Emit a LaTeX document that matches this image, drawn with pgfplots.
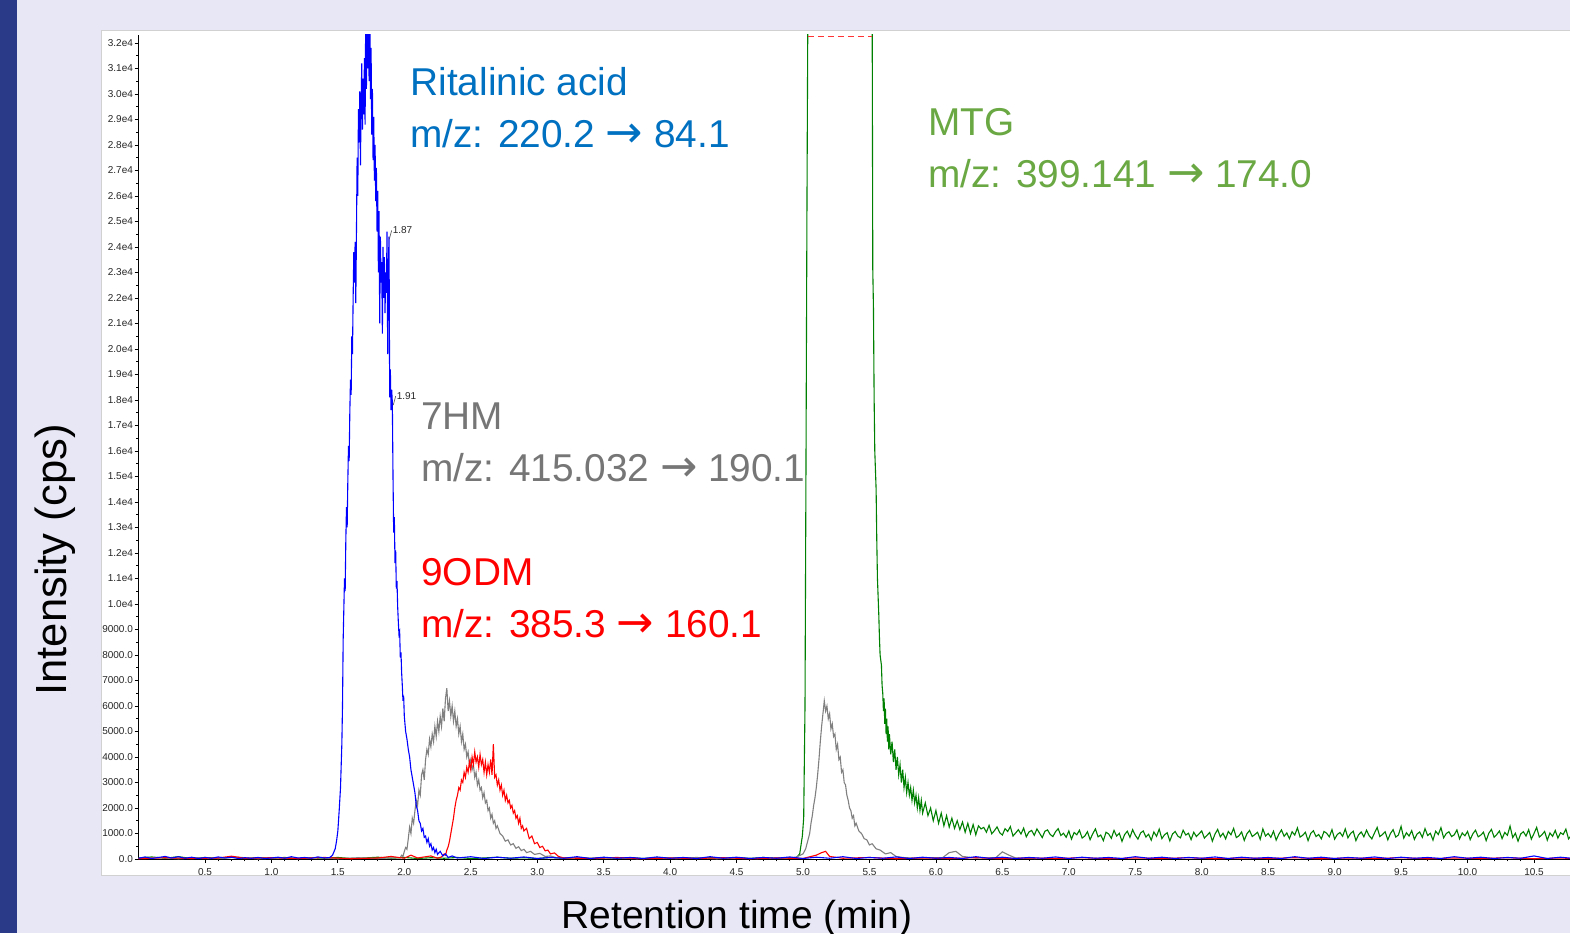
\documentclass[border=0pt]{standalone}
\usepackage{pgfplots}
\pgfplotsset{compat=1.18}
\usepackage{fontspec}
\setmainfont{Liberation Sans}
\newfontfamily\arrowfont[Scale=1.15]{DejaVu Sans}

\definecolor{bgpage}{HTML}{E7E7F6}
\definecolor{stripe}{HTML}{2A3A88}
\definecolor{ritblue}{HTML}{0070C0}
\definecolor{mtggreen}{HTML}{6AA843}
\definecolor{hmgray}{HTML}{767676}
\definecolor{trgreen}{HTML}{008000}
\definecolor{trgray}{HTML}{808080}

\newcommand\annfont{\fontsize{19.4}{26}\selectfont}
\newcommand\tickfont{\fontsize{5}{6}\selectfont}
\newcommand\arr{{\arrowfont →}}

\begin{document}
\begin{tikzpicture}
\clip (0,0) rectangle (785pt,466.5pt);
\fill[bgpage] (0,0) rectangle (785pt,466.5pt);
\fill[stripe] (0,0) rectangle (8.5pt,466.5pt);
\filldraw[fill=white, draw=black!18, line width=0.5pt] (50.5pt,29pt) rectangle (790pt,451pt);

\begin{axis}[
    at={(69.25pt,37pt)}, anchor=south west,
    scale only axis, width=715.75pt, height=412pt,
    xmin=0, xmax=10.771, ymin=0, ymax=32310,
    axis x line*=bottom, axis y line*=left,
    axis line style={black, line width=0.5pt},
    tick align=outside,
    major tick length=2pt, minor tick length=1.2pt,
    tick style={black, line width=0.4pt},
    xtick={0.5,1,1.5,2,2.5,3,3.5,4,4.5,5,5.5,6,6.5,7,7.5,8,8.5,9,9.5,10,10.5},
    xticklabels={0.5,1.0,1.5,2.0,2.5,3.0,3.5,4.0,4.5,5.0,5.5,6.0,6.5,7.0,7.5,8.0,8.5,9.0,9.5,10.0,10.5},
    minor x tick num=4,
    ytick={0,1000,2000,3000,4000,5000,6000,7000,8000,9000,10000,11000,12000,13000,14000,15000,16000,17000,18000,19000,20000,21000,22000,23000,24000,25000,26000,27000,28000,29000,30000,31000,32000},
    yticklabels={0.0,1000.0,2000.0,3000.0,4000.0,5000.0,6000.0,7000.0,8000.0,9000.0,1.0e4,1.1e4,1.2e4,1.3e4,1.4e4,1.5e4,1.6e4,1.7e4,1.8e4,1.9e4,2.0e4,2.1e4,2.2e4,2.3e4,2.4e4,2.5e4,2.6e4,2.7e4,2.8e4,2.9e4,3.0e4,3.1e4,3.2e4},
    minor y tick num=1,
    ticklabel style={font=\tickfont, text=black!85},
    yticklabel style={inner sep=0.6pt},
    xticklabel style={inner sep=0.6pt, yshift=-1.8pt},
    scaled y ticks=false,
    clip=true,
    every axis plot/.append style={line width=0.55pt, mark=none},
]
% MTG
\addplot[trgreen] coordinates {
(0,40)(0.1,80)(0.2,30)(0.3,90)(0.4,20)(0.5,60)(0.6,30)(0.7,70)(0.8,20)(0.9,50)(1.0,30)(1.1,60)(1.2,20)(1.3,50)(1.4,30)(1.5,60)(1.6,20)(1.7,40)(1.8,70)(1.9,30)(2.0,60)(2.1,20)(2.2,50)(2.3,30)(2.4,60)(2.5,20)(2.6,40)(2.7,70)(2.8,30)(2.9,50)(3.0,20)(3.1,60)(3.2,30)(3.3,50)(3.4,20)(3.5,60)(3.6,30)(3.7,50)(3.8,20)(3.9,60)(4.0,30)(4.1,50)(4.2,20)(4.3,60)(4.4,30)(4.5,50)(4.6,20)(4.7,60)(4.8,30)(4.9,50)
(4.95,50)(4.975,200)(4.995,900)(5.005,1600)(5.015,6000)(5.022,15000)(5.03,26000)(5.037,34000)(5.52,34000)
(5.525,23100)(5.53,21600)(5.535,18100)(5.54,16000)(5.55,14500)(5.555,12500)(5.56,11000)(5.565,10300)(5.57,9600)(5.575,8700)(5.58,8000)(5.59,7600)(5.595,6800)(5.60,6500)(5.605,5800)(5.61,6300)(5.615,5300)(5.62,5900)(5.625,4900)(5.63,5500)(5.635,4600)(5.64,5200)(5.645,4300)(5.65,4900)(5.66,4100)(5.67,4600)(5.68,3800)(5.69,4300)(5.70,3500)(5.71,4000)(5.72,3300)(5.73,3700)(5.74,3000)(5.75,3500)(5.76,2800)(5.77,3200)(5.78,2600)(5.79,3000)(5.80,2500)(5.81,2800)(5.82,2300)(5.83,2700)(5.84,2200)(5.85,2500)(5.86,2000)(5.87,2400)(5.88,1900)(5.89,2300)(5.90,1800)(5.92,2200)(5.94,1700)(5.96,2000)(5.98,1500)(6.00,1900)(6.02,1400)(6.04,1800)(6.06,1300)(6.08,1700)(6.10,1250)(6.12,1600)(6.14,1200)(6.16,1500)(6.18,1150)(6.20,1450)(6.22,1050)(6.24,1400)(6.26,1000)(6.28,1350)(6.30,950)(6.32,1300)
(6.34,1180)(6.36,1240)(6.38,1050)(6.40,1320)(6.42,990)(6.44,1110)(6.46,1260)(6.48,1030)(6.50,940)(6.52,1190)(6.54,1080)(6.56,1270)(6.58,900)(6.60,1020)(6.62,1150)(6.64,980)(6.66,1210)(6.68,870)(6.70,1060)(6.72,1120)(6.74,930)(6.76,1180)(6.78,1010)(6.80,840)(6.82,1090)(6.84,1140)(6.86,960)(6.88,880)(6.90,1070)(6.92,1190)(6.94,920)(6.96,1010)(6.98,850)(7.00,1100)
(7.02,780)(7.04,1040)(7.06,950)(7.08,1130)(7.10,820)(7.12,900)(7.14,1070)(7.16,760)(7.18,990)(7.20,1180)(7.22,870)(7.24,940)(7.26,720)(7.28,1050)(7.30,980)(7.32,810)(7.34,1120)(7.36,900)(7.38,1010)(7.40,690)(7.42,960)(7.44,1090)(7.46,850)(7.48,1150)(7.50,930)(7.52,780)(7.54,1020)(7.56,1100)(7.58,860)(7.60,970)(7.62,740)(7.64,1060)(7.66,890)(7.68,1170)(7.70,800)(7.72,950)(7.74,1030)(7.76,710)(7.78,980)(7.80,1080)(7.82,900)(7.84,830)(7.86,1130)(7.88,940)(7.90,1010)(7.92,760)(7.94,1050)(7.96,880)(7.98,990)
(8.00,1100)(8.02,820)(8.04,930)(8.06,1040)(8.08,700)(8.10,980)(8.12,1160)(8.14,870)(8.16,1010)(8.18,790)(8.20,1080)(8.22,950)(8.24,1200)(8.26,840)(8.28,910)(8.30,1060)(8.32,730)(8.34,990)(8.36,1120)(8.38,880)(8.40,960)(8.42,1050)(8.44,770)(8.46,1180)(8.48,900)(8.50,1000)(8.52,850)(8.54,1090)(8.56,740)(8.58,970)(8.60,1140)(8.62,890)(8.64,1020)(8.66,800)(8.68,1070)(8.70,940)(8.72,1220)(8.74,860)(8.76,930)(8.78,1050)(8.80,720)(8.82,1000)(8.84,1110)(8.86,880)(8.88,960)(8.90,790)(8.92,1080)(8.94,1010)(8.96,870)(8.98,1150)
(9.00,780)(9.02,960)(9.04,1040)(9.06,890)(9.08,1180)(9.10,830)(9.12,1000)(9.14,1090)(9.16,720)(9.18,950)(9.20,1060)(9.22,870)(9.24,1130)(9.26,910)(9.28,790)(9.30,1020)(9.32,1240)(9.34,880)(9.36,960)(9.38,1070)(9.40,750)(9.42,1000)(9.44,1150)(9.46,860)(9.48,940)(9.50,1280)(9.52,820)(9.54,1030)(9.56,900)(9.58,1110)(9.60,770)(9.62,980)(9.64,1060)(9.66,850)(9.68,1190)(9.70,920)(9.72,1010)(9.74,740)(9.76,1090)(9.78,960)(9.80,1230)(9.82,830)(9.84,1000)(9.86,1070)(9.88,880)(9.90,950)(9.92,1140)(9.94,790)(9.96,1020)(9.98,910)
(10.00,1080)(10.02,760)(10.04,990)(10.06,1130)(10.08,870)(10.10,940)(10.12,1050)(10.14,720)(10.16,1010)(10.18,1160)(10.20,850)(10.22,960)(10.24,1100)(10.26,800)(10.28,1040)(10.30,930)(10.32,1290)(10.34,840)(10.36,1010)(10.38,700)(10.40,980)(10.42,1070)(10.44,900)(10.46,1150)(10.48,780)(10.50,1000)(10.52,1240)(10.54,860)(10.56,950)(10.58,1080)(10.60,740)(10.62,1020)(10.64,890)(10.66,1120)(10.68,820)(10.70,1030)(10.72,960)(10.74,1170)(10.76,790)(10.78,920)
};
% saturation marker on top of MTG
\addplot[red!80, densely dashed, line width=0.5pt] coordinates {(5.037,32250)(5.52,32250)};
% 7HM
\addplot[trgray] coordinates {
(0,20)(0.15,60)(0.3,10)(0.45,50)(0.6,20)(0.75,70)(0.9,10)(1.05,40)(1.2,20)(1.35,60)(1.5,10)(1.65,50)(1.8,20)(1.9,40)
(1.97,50)(1.98,150)(1.99,100)(2.00,300)(2.01,450)(2.02,380)(2.03,800)(2.04,1250)(2.05,1000)(2.06,1600)(2.07,1400)(2.08,1900)(2.09,2300)(2.10,2100)(2.11,2700)(2.12,2500)(2.13,3300)(2.14,3500)(2.15,3100)(2.16,3900)(2.17,4300)(2.18,4100)(2.19,4700)(2.20,4400)(2.21,4900)(2.22,4600)(2.23,5200)(2.24,4800)(2.25,5400)(2.26,5000)(2.27,5600)(2.28,5200)(2.29,5900)(2.30,5400)(2.31,6300)(2.32,6700)(2.33,5800)(2.34,6200)(2.35,5600)(2.36,6000)(2.37,5400)(2.38,5800)(2.39,5200)(2.40,5500)(2.41,4900)(2.42,5200)(2.43,4600)(2.44,4900)(2.45,4300)(2.46,4500)(2.47,4000)(2.48,4200)(2.49,3700)(2.50,3900)(2.51,3500)(2.52,3700)(2.53,3200)(2.54,3400)(2.55,2900)(2.56,3100)(2.57,2700)(2.58,2800)(2.59,2400)(2.60,2600)(2.61,2200)(2.62,2300)(2.63,1900)(2.64,2000)(2.65,1600)(2.66,1750)(2.67,1400)(2.68,1500)(2.69,1200)(2.70,1300)(2.72,1000)(2.74,900)(2.76,700)(2.78,750)(2.80,550)(2.82,600)(2.84,420)(2.86,480)(2.88,330)(2.90,380)(2.92,250)(2.95,300)(2.98,180)(3.02,220)(3.06,100)(3.1,120)(3.15,40)
(3.3,60)(3.45,20)(3.6,50)(3.75,10)(3.9,40)(4.05,20)(4.2,60)(4.35,10)(4.5,50)(4.65,20)(4.8,40)
(4.90,30)(4.95,80)(5.00,200)(5.02,400)(5.03,600)(5.04,800)(5.05,1000)(5.06,1400)(5.07,1700)(5.08,2100)(5.09,2400)(5.10,2800)(5.11,3300)(5.12,3900)(5.13,4600)(5.14,5200)(5.15,5700)(5.16,6200)(5.17,5800)(5.18,6000)(5.19,5500)(5.20,5700)(5.21,5100)(5.22,5300)(5.23,4800)(5.24,4900)(5.25,4300)(5.26,4500)(5.27,3900)(5.28,4000)(5.29,3400)(5.30,3500)(5.31,3000)(5.32,2900)(5.33,2500)(5.34,2300)(5.35,2000)(5.36,1900)(5.37,1600)(5.38,1700)(5.39,1300)(5.40,1400)(5.42,1100)(5.44,1000)(5.46,800)(5.48,750)(5.50,550)(5.52,600)(5.55,400)(5.58,350)(5.62,200)(5.66,250)(5.70,100)(5.75,60)
(5.85,30)(5.95,50)(6.05,50)(6.10,250)(6.15,300)(6.20,100)(6.30,40)(6.45,50)(6.50,280)(6.55,150)(6.60,40)(6.75,20)
};
% 9ODM
\addplot[red] coordinates {
(0,10)(0.2,50)(0.4,20)(0.6,40)(0.7,110)(0.8,30)(1.0,50)(1.2,20)(1.4,60)(1.6,10)(1.8,40)(1.9,100)(2.0,30)(2.05,150)(2.1,40)(2.2,120)(2.25,30)
(2.28,80)(2.30,200)(2.31,150)(2.32,350)(2.33,480)(2.34,700)(2.35,1000)(2.36,1300)(2.37,1600)(2.38,2000)(2.39,2300)(2.40,2500)(2.41,2800)(2.42,2700)(2.43,3100)(2.44,3000)(2.45,3400)(2.46,3200)(2.47,3600)(2.48,3400)(2.49,3800)(2.50,3500)(2.51,4000)(2.52,3700)(2.53,4200)(2.54,3800)(2.55,4000)(2.56,3600)(2.57,4100)(2.58,3700)(2.59,3900)(2.60,3400)(2.61,3800)(2.62,3300)(2.63,3700)(2.64,3400)(2.65,3900)(2.66,3300)(2.67,4500)(2.68,3200)(2.69,3300)(2.70,2900)(2.71,3100)(2.72,2700)(2.73,2900)(2.74,2500)(2.75,2700)(2.76,2300)(2.77,2500)(2.78,2200)(2.79,2300)(2.80,2000)(2.81,2100)(2.82,1800)(2.83,1900)(2.84,1600)(2.85,1700)(2.86,1400)(2.87,1600)(2.88,1200)(2.89,1300)(2.90,1100)(2.92,1200)(2.94,800)(2.96,900)(2.98,600)(3.00,650)(3.02,450)(3.04,500)(3.06,320)(3.08,350)(3.10,200)(3.13,240)(3.16,100)(3.2,40)
(3.4,20)(3.6,60)(3.8,10)(4.0,40)(4.2,20)(4.4,50)(4.6,10)(4.8,40)(5.0,20)(5.10,150)(5.14,250)(5.17,300)(5.20,100)(5.3,30)(5.5,60)(5.7,10)(5.9,40)(6.1,20)(6.3,50)(6.5,10)(6.7,40)(6.9,20)(7.1,50)(7.3,10)(7.5,40)(7.7,20)(7.9,50)(8.1,10)(8.3,40)(8.5,20)(8.7,50)(8.9,10)(9.1,40)(9.3,20)(9.5,50)(9.7,10)(9.9,40)(10.1,20)(10.3,50)(10.5,10)(10.7,40)(10.78,20)
};
% Ritalinic acid
\addplot[blue] coordinates {
(0.0,30)(0.05,80)(0.1,20)(0.15,60)(0.2,100)(0.25,40)(0.3,90)(0.35,30)(0.4,70)(0.45,20)(0.5,60)(0.55,30)(0.6,80)(0.65,40)(0.7,70)(0.75,20)(0.8,50)(0.85,30)(0.9,60)(0.95,20)(1.0,40)(1.05,70)(1.1,30)(1.15,90)(1.2,40)(1.25,60)(1.3,30)(1.35,80)(1.4,40)(1.44,60)
(1.46,150)(1.48,400)(1.49,700)(1.50,1100)(1.51,1900)(1.52,2800)(1.53,4500)(1.535,6000)(1.54,8600)(1.545,9800)(1.55,11000)(1.555,10500)(1.56,12500)(1.565,13800)(1.57,13000)(1.575,14800)(1.58,16200)(1.585,15600)(1.59,17500)(1.595,18800)(1.60,18200)(1.605,20500)(1.61,19800)(1.615,22000)(1.62,23800)(1.625,22600)(1.63,24200)(1.635,21800)(1.64,24600)(1.645,27500)(1.65,26000)(1.655,29400)(1.66,28100)(1.665,30100)(1.67,27200)(1.675,29600)(1.68,31200)(1.685,28600)(1.69,30600)(1.695,29200)(1.70,31400)(1.705,28800)(1.71,33500)(1.715,30200)(1.72,34500)(1.725,31000)(1.73,34000)(1.735,30500)(1.74,33800)(1.745,29800)(1.75,31800)(1.755,28400)(1.76,30200)(1.765,27400)(1.77,29100)(1.775,26600)(1.78,28000)(1.785,25800)(1.79,27100)(1.795,24600)(1.80,26200)(1.805,23000)(1.81,25400)(1.815,21000)(1.82,24400)(1.825,22600)(1.83,23400)(1.835,20600)(1.84,24000)(1.845,22000)(1.85,23600)(1.855,21400)(1.86,23000)(1.865,22200)(1.87,24600)(1.875,19800)(1.88,23200)(1.885,24400)(1.89,18100)(1.895,19200)(1.90,17600)(1.905,18400)(1.91,17900)(1.915,15000)(1.92,12800)(1.925,13400)(1.93,11600)(1.935,12100)(1.94,10600)(1.945,10900)(1.95,9900)(1.955,9300)(1.96,8800)(1.965,8900)(1.97,7900)(1.975,8100)(1.98,7300)(1.985,6800)(1.99,6200)(1.995,6400)(2.00,5600)(2.01,5000)(2.02,4700)(2.03,4300)(2.04,4000)(2.05,3500)(2.06,3200)(2.07,2900)(2.08,2600)(2.09,2100)(2.10,1900)(2.11,1500)(2.12,1400)(2.13,1100)(2.14,1200)(2.15,850)(2.16,900)(2.17,650)(2.18,800)(2.19,500)(2.20,600)(2.21,350)(2.22,450)(2.23,250)(2.24,380)(2.25,180)(2.27,300)(2.29,120)(2.31,200)(2.33,60)(2.36,120)(2.4,40)
(2.5,90)(2.6,20)(2.7,70)(2.8,30)(2.9,80)(3.0,20)(3.1,60)(3.2,30)(3.3,90)(3.4,20)(3.5,70)(3.6,30)(3.7,60)(3.8,20)(3.9,80)(4.0,30)(4.1,60)(4.2,20)(4.3,90)(4.4,30)(4.5,70)(4.6,20)(4.7,60)(4.8,30)(4.9,80)(5.0,20)(5.1,70)(5.2,30)(5.3,90)(5.4,20)(5.5,60)(5.6,30)(5.7,80)(5.8,20)(5.9,70)(6.0,30)(6.1,60)(6.2,20)(6.3,90)(6.4,30)(6.5,70)(6.6,20)(6.7,60)(6.8,30)(6.9,80)(7.0,20)(7.1,70)(7.2,30)(7.3,60)(7.4,20)(7.5,90)(7.6,30)(7.7,70)(7.8,20)(7.9,60)(8.0,30)(8.1,80)(8.2,20)(8.3,70)(8.4,30)(8.5,60)(8.6,20)(8.7,90)(8.8,30)(8.9,70)(9.0,20)(9.1,60)(9.2,30)(9.3,80)(9.4,20)(9.5,70)(9.6,30)(9.7,60)(9.8,20)(9.9,90)(10.0,30)(10.1,70)(10.2,20)(10.3,60)(10.4,30)(10.5,120)(10.6,20)(10.7,70)(10.78,30)
};
% peak labels
\draw[black!70, line width=0.3pt] (axis cs:1.887,24300) -- (axis cs:1.905,24650)
  node[right, inner sep=0.4pt, font=\tickfont, text=black!85] {1.87};
\draw[black!70, line width=0.3pt] (axis cs:1.917,17800) -- (axis cs:1.935,18150)
  node[right, inner sep=0.4pt, font=\tickfont, text=black!85] {1.91};
\end{axis}

% compound annotations
\node[anchor=base west, inner sep=0, text=ritblue, font=\annfont] at (205pt,418.5pt) {Ritalinic acid};
\node[anchor=base west, inner sep=0, text=ritblue, font=\annfont] at (205pt,392.5pt) {m/z: 220.2 \arr{} 84.1};
\node[anchor=base west, inner sep=0, text=mtggreen, font=\annfont] at (464pt,398.5pt) {MTG};
\node[anchor=base west, inner sep=0, text=mtggreen, font=\annfont] at (464pt,372.5pt) {m/z: 399.141 \arr{} 174.0};
\node[anchor=base west, inner sep=0, text=hmgray, font=\annfont] at (210.5pt,251.5pt) {7HM};
\node[anchor=base west, inner sep=0, text=hmgray, font=\annfont] at (210.5pt,225.5pt) {m/z: 415.032 \arr{} 190.1};
\node[anchor=base west, inner sep=0, text=red, font=\annfont] at (210.5pt,173.5pt) {9ODM};
\node[anchor=base west, inner sep=0, text=red, font=\annfont] at (210.5pt,147.5pt) {m/z: 385.3 \arr{} 160.1};

% axis titles
\node[rotate=90, inner sep=0, font=\fontsize{21.8}{26}\selectfont] at (27.5pt,186.5pt) {Intensity (cps)};
\node[anchor=base, inner sep=0, font=\fontsize{19.5}{24}\selectfont] at (368.5pt,2.5pt) {Retention time (min)};
\end{tikzpicture}
\end{document}
